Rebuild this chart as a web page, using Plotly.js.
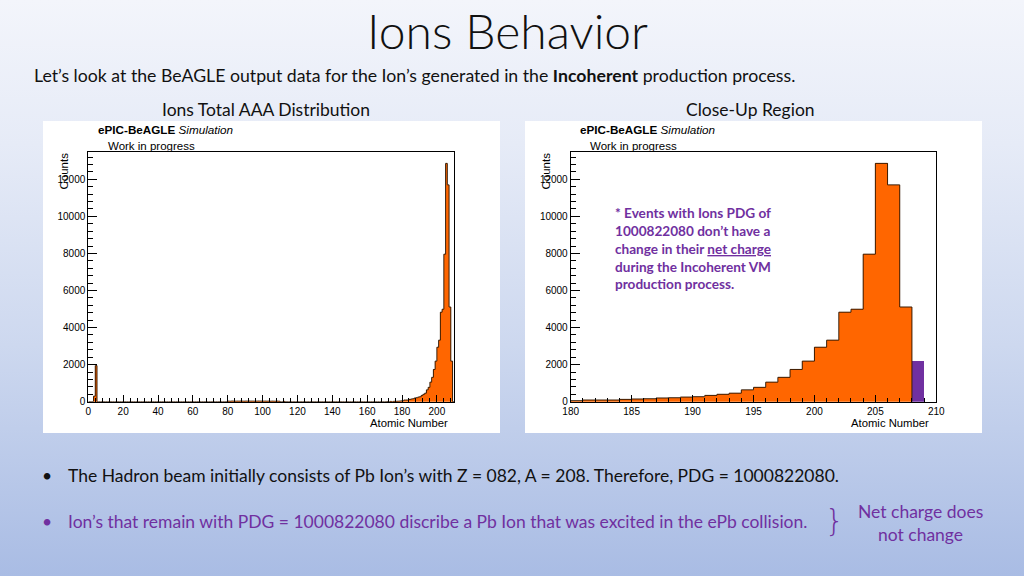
<!DOCTYPE html>
<html>
<head>
<meta charset="utf-8">
<script src="https://cdn.plot.ly/plotly-3.0.1.min.js"></script>
<style>
  html, body { margin:0; padding:0; width:1024px; height:576px; overflow:hidden;
    background: linear-gradient(180deg, #f3f5fb 0%, #e6ebf7 25%, #cdd8ef 60%, #a9bce4 100%); }
  #chart { width:1024px; height:576px; }
</style>
</head>
<body>
<div id="chart"></div>
<script>
// ---------------- DATA ----------------
// Counts per atomic (mass) number bin, A = 0 ... 209 (bin width 1)
var counts = [
  0, 0, 0, 300, 1950, 0, 0, 0, 0, 0,            // 0-9
  0, 0, 0, 0, 0, 0, 0, 0, 0, 0,                 // 10-19
  0, 0, 0, 0, 0, 0, 0, 0, 0, 0,                 // 20-29
  0, 0, 0, 0, 0, 0, 0, 0, 0, 0,                 // 30-39
  0, 0, 0, 0, 0, 0, 0, 0, 0, 0,                 // 40-49
  0, 0, 0, 0, 0, 0, 0, 0, 0, 0,                 // 50-59
  0, 0, 0, 0, 0, 0, 0, 0, 0, 0,                 // 60-69
  0, 0, 0, 0, 0, 0, 0, 0, 0, 0,                 // 70-79
  30, 25, 35, 30, 28, 32, 30, 35, 30, 28,       // 80-89
  33, 30, 35, 30, 32, 28, 30, 35, 33, 30,       // 90-99
  30, 32, 28, 30, 25, 30, 28, 25, 30, 25,       // 100-109
  0, 0, 15, 0, 0, 0, 0, 0, 0, 0,                // 110-119
  0, 0, 0, 0, 0, 0, 0, 0, 0, 0,                 // 120-129
  0, 0, 0, 0, 0, 0, 0, 0, 0, 0,                 // 130-139
  0, 0, 0, 0, 0, 0, 0, 0, 0, 0,                 // 140-149
  0, 0, 0, 0, 0, 0, 0, 0, 0, 0,                 // 150-159
  0, 0, 0, 0, 0, 0, 0, 0, 0, 0,                 // 160-169
  0, 10, 0, 15, 0, 20, 20, 25, 30, 40,          // 170-179
  55, 90, 90, 90, 125, 145, 160, 200, 215, 250, // 180-189
  270, 340, 400, 460, 640, 775, 1055, 1315, 1740, 2190, // 190-199
  2940, 3320, 4830, 4990, 7960, 12860, 11700, 5110, 2190, 0 // 200-209
];
var firstBin = 0;            // lower edge of first bin
var pdgBinA = 208;           // bin with Ions PDG = 1000822080 (highlighted)
var zoomStart = 180;         // close-up region start

var xTicksLeft = {dtick: 20, minor: 4};
var xTicksRight = {dtick: 5, minor: 1};

var noteLines = [
  "* Events with Ions PDG of",
  "1000822080 don\u2019t have a",
  "change in their <u>net charge</u>",
  "during the Incoherent VM",
  "production process."
];

// ---------------- BUILD ----------------
var edges = counts.map(function(_, i){ return firstBin + i; });

function stepLine(xs, ys, xa, ya) {
  var sx = [xs[0]], sy = [0];
  for (var i = 0; i < xs.length; i++) { sx.push(xs[i]); sy.push(ys[i]); }
  sx.push(xs[xs.length-1] + 1); sy.push(0);
  return {type:'scatter', mode:'lines', x:sx, y:sy, xaxis:xa, yaxis:ya,
          line:{shape:'hv', color:'#3a1d05', width:1}, hoverinfo:'skip'};
}

var orange = '#ff6600', purple = '#7030a0';

var leftBars = {type:'bar', x:edges, y:counts, offset:0, width:1,
  marker:{color:orange, line:{width:0}}, xaxis:'x', yaxis:'y'};
var leftLine = stepLine(edges, counts, 'x', 'y');

var rEdges = [], rCounts = [];
for (var i = 0; i < edges.length; i++) {
  if (edges[i] >= zoomStart && edges[i] < pdgBinA) { rEdges.push(edges[i]); rCounts.push(counts[i]); }
}
var rightBars = {type:'bar', x:rEdges, y:rCounts, offset:0, width:1,
  marker:{color:orange, line:{width:0}}, xaxis:'x2', yaxis:'y2'};
var rightLine = stepLine(rEdges, rCounts, 'x2', 'y2');
var pdgBar = {type:'bar', x:[pdgBinA], y:[counts[pdgBinA - firstBin]], offset:0, width:1,
  marker:{color:purple, line:{width:0}}, xaxis:'x2', yaxis:'y2'};

var W = 1024, H = 576;
function px(x){ return x / W; }
function py(y){ return 1 - y / H; }

var tickFont = {family:'Liberation Sans, Arial, sans-serif', size:10, color:'#000'};
function xAxis(dom, range, t, anchor) {
  return {domain:dom, range:range, anchor:anchor, showline:true, mirror:true,
    linecolor:'#000', linewidth:1, ticks:'inside', ticklen:7, tickwidth:1, tickcolor:'#000',
    dtick:t.dtick, tick0:range[0], showgrid:false, zeroline:false, tickfont:tickFont,
    tickformat:'d', ticklabelstandoff:0,
    minor:{dtick:t.minor, ticks:'inside', ticklen:4, tickcolor:'#000', tickwidth:1, showgrid:false},
    fixedrange:true};
}
function yAxis(dom, anchor) {
  return {domain:dom, range:[0, 13490], anchor:anchor, showline:true, mirror:true,
    linecolor:'#000', linewidth:1, ticks:'inside', ticklen:9, tickwidth:1, tickcolor:'#000',
    dtick:2000, tick0:0, showgrid:false, zeroline:false, tickfont:tickFont,
    tickformat:'d', exponentformat:'none',
    minor:{dtick:400, ticks:'inside', ticklen:5, tickcolor:'#000', tickwidth:1, showgrid:false},
    fixedrange:true};
}

var yDom = [py(401.7), py(151.7)];
var slideFont = 'Lato, "Open Sans", sans-serif';
var rootFont = 'Liberation Sans, Arial, sans-serif';

function ann(text, x, y, opt) {
  var a = {text:text, x:px(x), y:py(y), xref:'paper', yref:'paper', showarrow:false,
    xanchor:'left', yanchor:'middle', font:{family:slideFont, size:17.5, color:'#111'}};
  for (var k in opt) a[k] = opt[k];
  return a;
}

var annotations = [
  ann('Ions Behavior', 507, 30, {xanchor:'center', font:{family:slideFont, size:48, color:'#111', weight:300}}),
  ann('Let\u2019s look at the BeAGLE output data for the Ion\u2019s generated in the <b>Incoherent</b> production process.', 32, 76, {font:{family:slideFont, size:17.7, color:'#111'}}),
  ann('Ions Total AAA Distribution', 266, 109, {xanchor:'center'}),
  ann('Close-Up Region', 750, 109, {xanchor:'center'}),
  ann('\u2022', 40, 475, {}),
  ann('The Hadron beam initially consists of Pb Ion\u2019s with Z = 082, A = 208. Therefore, PDG = 1000822080.', 66, 475, {}),
  ann('\u2022', 40, 521, {font:{family:slideFont, size:17.5, color:purple}}),
  ann('Ion\u2019s that remain with PDG = 1000822080 discribe a Pb Ion that was excited in the ePb collision.', 66, 521, {font:{family:slideFont, size:17.5, color:purple}}),
  ann('}', 834, 520, {xanchor:'center', font:{family:'DejaVu Sans, sans-serif', size:30, color:purple, weight:300}}),
  ann('Net charge does', 920, 511, {xanchor:'center', font:{family:slideFont, size:17.5, color:purple}}),
  ann('not change', 920, 534, {xanchor:'center', font:{family:slideFont, size:17.5, color:purple}})
];

[0, 482].forEach(function(dx, idx){
  annotations.push(ann('<b>ePIC-BeAGLE</b> <i>Simulation</i>', 96 + dx, 129, {font:{family:rootFont, size:11.7, color:'#000'}}));
  annotations.push(ann('Work in progress', 106 + dx, 146, {font:{family:rootFont, size:11.5, color:'#000'}}));
  annotations.push(ann('Counts', 63 + dx, 151, {xanchor:'center', yanchor:'top', textangle:-90, font:{family:rootFont, size:11.5, color:'#000'}}));
  annotations.push(ann('Atomic Number', 450 - (idx ? 1 : 0) + dx, 423, {xanchor:'right', font:{family:rootFont, size:11.3, color:'#000'}}));
});

var noteY = [213.3, 231.3, 249, 266.7, 284.3];
noteLines.forEach(function(t, i){
  annotations.push(ann(t, 613, noteY[i], {font:{family:slideFont, size:13.6, color:purple, weight:700}}));
});

var shapes = [
  {type:'rect', xref:'paper', yref:'paper', x0:px(43), x1:px(500), y0:py(433), y1:py(121),
   fillcolor:'#ffffff', line:{width:0}, layer:'below'},
  {type:'rect', xref:'paper', yref:'paper', x0:px(525), x1:px(982), y0:py(433), y1:py(121),
   fillcolor:'#ffffff', line:{width:0}, layer:'below'}
];

var layout = {
  width:W, height:H, margin:{l:0, r:0, t:0, b:0, pad:0},
  paper_bgcolor:'rgba(0,0,0,0)', plot_bgcolor:'#ffffff',
  showlegend:false, bargap:0, barmode:'overlay',
  xaxis: xAxis([px(88.3), px(454.3)], [0, 210], xTicksLeft, 'y'),
  yaxis: yAxis(yDom, 'x'),
  xaxis2: xAxis([px(570.7), px(936.3)], [180, 210], xTicksRight, 'y2'),
  yaxis2: yAxis(yDom, 'x2'),
  annotations: annotations,
  shapes: shapes
};

Plotly.newPlot('chart', [leftBars, leftLine, rightBars, rightLine, pdgBar], layout,
  {displayModeBar:false, staticPlot:true});
</script>
</body>
</html>
